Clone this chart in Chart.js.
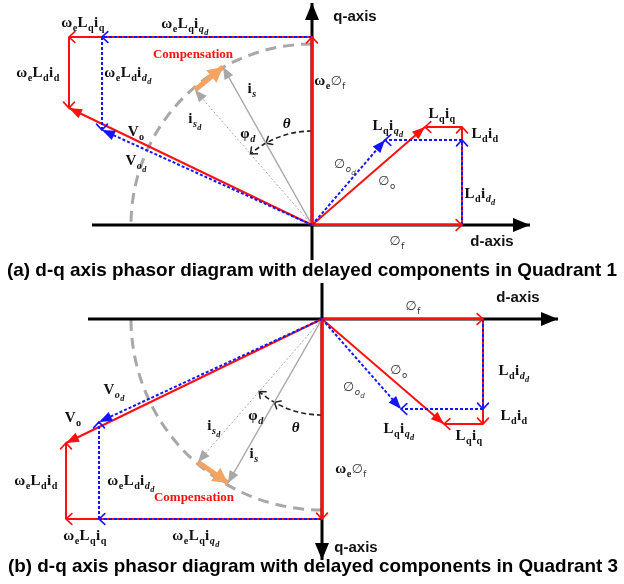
<!DOCTYPE html>
<html><head><meta charset="utf-8">
<script src="https://cdn.jsdelivr.net/npm/chart.js@4/dist/chart.umd.min.js"></script>
<style>html,body{margin:0;padding:0;background:#fff}#wrap{width:624px;height:584px;position:relative}</style>
</head><body><div id="wrap"><canvas id="c"></canvas></div>
<script>
// ===== Panel (a) : Quadrant 1, values as (d, q) components =====
const phiF_a    = [150, 0];
const Ldid_a    = [0, 98];
const Ldidd_a   = [0, 85];
const Lqiq_a    = [-37, 0];
const Lqiqd_a   = [-77, 0];
const wePhiF_a  = [0, 188];
const weLqiq_a  = [-243, 0];
const weLqiqd_a = [-210, 0];
const weLdid_a  = [0, -71];
const weLdidd_a = [0, -93];
const is_a      = [-89, 158];
const isd_a     = [-117, 135];
const arcR_a    = [181, 94];     // current circle radius, angle-arc radius
const dAxis_a   = [-220, 218];
const qAxis_a   = [-35, 222];

// ===== Panel (b) : Quadrant 3 (q-axis pointing down) =====
const phiF_b    = [161, 0];
const Ldid_b    = [0, 105];
const Ldidd_b   = [0, 90];
const Lqiq_b    = [-39, 0];
const Lqiqd_b   = [-82, 0];
const wePhiF_b  = [0, 200];
const weLqiq_b  = [-256, 0];
const weLqiqd_b = [-223, 0];
const weLdid_b  = [0, -76];
const weLdidd_b = [0, -97];
const is_b      = [-94, 164];
const isd_b     = [-124, 143];
const arcR_b    = [191, 96];
const dAxis_b   = [-234, 236];
const qAxis_b   = [-36, 241];

const captions = [
  "(a) d-q axis phasor diagram with delayed components in Quadrant 1",
  "(b) d-q axis phasor diagram with delayed components in Quadrant 3"
];

// ---------- label text definitions ----------
const T = {
  weLqiq:  [['ω',0],['e',1],['L',0],['q',1],['i',0],['q',1]],
  weLqiqd: [['ω',0],['e',1],['L',0],['q',1],['i',0],['q',1,'i'],['d',2,'i']],
  weLdid:  [['ω',0],['e',1],['L',0],['d',1],['i',0],['d',1]],
  weLdidd: [['ω',0],['e',1],['L',0],['d',1],['i',0],['d',1,'i'],['d',2,'i']],
  Vo:      [['V',0],['o',1]],
  Vod:     [['V',0],['o',1,'i'],['d',2,'i']],
  is:      [['i',0],['s',1,'i']],
  isd:     [['i',0],['s',1,'i'],['d',2,'i']],
  phid:    [['φ',0],['d',1,'i']],
  theta:   [['θ',0,'i']],
  wePhiF:  [['ω',0],['e',1],['∅',0,'s'],['f',1,'s']],
  phiF:    [['∅',0,'s'],['f',1,'s']],
  phiO:    [['∅',0,'s'],['o',1,'s']],
  phiOd:   [['∅',0,'s'],['o',1,'si'],['d',2,'si']],
  Lqiq:    [['L',0],['q',1],['i',0],['q',1]],
  Ldid:    [['L',0],['d',1],['i',0],['d',1]],
  Lqiqd:   [['L',0],['q',1],['i',0],['q',1,'i'],['d',2,'i']],
  Ldidd:   [['L',0],['d',1],['i',0],['d',1,'i'],['d',2,'i']]
};

// label placement (text key, offset from panel origin in diagram units)
const labelsA = [
  ['weLqiq',-229,203],['weLqiqd',-127,202],['weLdid',-274,153],['weLdidd',-184,153],
  ['Vo',-176,94],['Vod',-176,65],['is',-60,137],['isd',-117,107],['phid',-64,92],['theta',-25,102],
  ['wePhiF',18,145],['phiF',85,-15],['Lqiq',130,112],['Ldid',173,92],['Lqiqd',76,100],
  ['phiOd',33,62],['phiO',75,45],['Ldidd',168,32]
];
const labelsB = [
  ['phiF',91,-14],['Ldidd',192,51],['Ldid',192,96],['Lqiqd',77,109],['Lqiq',147,116],
  ['phiO',77,50],['phiOd',32,67],['wePhiF',29,149],['Vod',-208,70],['Vo',-249,98],
  ['weLdid',-286,161],['weLdidd',-191,161],['weLqiq',-237,216],['weLqiqd',-126,216],
  ['isd',-108,106],['phid',-66,96],['theta',-26,108],['is',-68,134]
];
const plainA = [['Compensation',-119,170,'comp'],['q-axis',43,208,'axis'],['d-axis',180,-17,'axis'],[captions[0],0,-46,'cap']];
const plainB = [['Compensation',-128,179,'comp'],['d-axis',196,-21,'axis'],['q-axis',34,229,'axis'],[captions[1],-9,248,'cap']];

// ---------- styles ----------
const RED = '#ff1010', BLUE = '#1414ff', GRAY = '#a8a8a8', ORANGE = '#f4a460';
const ST = {
  red:   {c:RED, w:2},
  redT:  {c:RED, w:3},
  blue:  {c:BLUE, w:2, d:[3,2]},
  gray:  {c:GRAY, w:1.5},
  grayD: {c:GRAY, w:1, d:[2,2]},
  orng:  {c:ORANGE, w:5},
  axis:  {c:'#000', w:3}
};
const add = (p, v) => [p[0]+v[0], p[1]+v[1]];
const O = [0,0];
const datasets = [];
function seg(panel, p0, p1, st, arrow) {
  const s = ST[st];
  datasets.push({
    data:[{x:p0[0],y:p0[1]},{x:p1[0],y:p1[1]}],
    xAxisID: 'x'+panel, yAxisID: 'y'+panel,
    showLine:true, pointRadius:0, borderColor:s.c, backgroundColor:s.c,
    borderWidth:s.w, borderDash:s.d||[], tension:0, fill:false, arrow: arrow
  });
}
function buildPanel(p, v) {
  seg(p, [v.dAxis[0],0], [v.dAxis[1],0], 'axis', 'axis');
  seg(p, [0,v.qAxis[0]], [0,v.qAxis[1]], 'axis', 'axis');
  seg(p, O, v.isd, 'grayD', 'gray');
  seg(p, O, v.is, 'gray', 'gray');
  seg(p, v.isd, v.is, 'orng', 'orng');
  const a1 = v.phiF, r2 = add(a1, v.Ldid), r3 = add(r2, v.Lqiq);
  const b2 = add(a1, v.Ldidd), b3 = add(b2, v.Lqiqd);
  seg(p, O, a1, 'red', 'open');
  seg(p, a1, r2, 'red', 'open');
  seg(p, r2, r3, 'red', 'open');
  seg(p, O, r3, 'red', 'fillR');
  seg(p, a1, b2, 'blue', 'openB');
  seg(p, b2, b3, 'blue', 'openB');
  seg(p, O, b3, 'blue', 'fillB');
  const w1 = v.wePhiF, w2 = add(w1, v.weLqiq), w3 = add(w2, v.weLdid);
  const u2 = add(w1, v.weLqiqd), u3 = add(u2, v.weLdidd);
  seg(p, O, w1, 'redT', 'open');
  seg(p, w1, w2, 'red', 'open');
  seg(p, w2, w3, 'red', 'open');
  seg(p, O, w3, 'red', 'fillR');
  seg(p, w1, u2, 'blue', 'openB');
  seg(p, u2, u3, 'blue', 'openB');
  seg(p, O, u3, 'blue', 'fillB');
}
buildPanel('a', {phiF:phiF_a,Ldid:Ldid_a,Ldidd:Ldidd_a,Lqiq:Lqiq_a,Lqiqd:Lqiqd_a,wePhiF:wePhiF_a,weLqiq:weLqiq_a,weLqiqd:weLqiqd_a,weLdid:weLdid_a,weLdidd:weLdidd_a,is:is_a,isd:isd_a,dAxis:dAxis_a,qAxis:qAxis_a});
buildPanel('b', {phiF:phiF_b,Ldid:Ldid_b,Ldidd:Ldidd_b,Lqiq:Lqiq_b,Lqiqd:Lqiqd_b,wePhiF:wePhiF_b,weLqiq:weLqiq_b,weLqiqd:weLqiqd_b,weLdid:weLdid_b,weLdidd:weLdidd_b,is:is_b,isd:isd_b,dAxis:dAxis_b,qAxis:qAxis_b});
datasets.forEach((d,i)=>{ d.order = datasets.length - i; });

// ---------- drawing helpers ----------
function chevron(ctx, tx, ty, ang, color, len, spread, lw) {
  ctx.save(); ctx.setLineDash([]); ctx.strokeStyle=color; ctx.lineWidth=lw; ctx.lineCap='round';
  ctx.beginPath();
  ctx.moveTo(tx - len*Math.cos(ang-spread), ty - len*Math.sin(ang-spread));
  ctx.lineTo(tx, ty);
  ctx.lineTo(tx - len*Math.cos(ang+spread), ty - len*Math.sin(ang+spread));
  ctx.stroke(); ctx.restore();
}
function tri(ctx, tx, ty, ang, color, len, half) {
  const bx = tx - len*Math.cos(ang), by = ty - len*Math.sin(ang);
  const nx = -Math.sin(ang), ny = Math.cos(ang);
  ctx.save(); ctx.fillStyle=color; ctx.beginPath();
  ctx.moveTo(tx,ty); ctx.lineTo(bx+nx*half, by+ny*half); ctx.lineTo(bx-nx*half, by-ny*half);
  ctx.closePath(); ctx.fill(); ctx.restore();
}
function panelGeom(chart, p) {
  const xs = chart.scales['x'+p], ys = chart.scales['y'+p];
  const px = v => [xs.getPixelForValue(v[0]), ys.getPixelForValue(v[1])];
  return {xs, ys, px, o: px([0,0])};
}
function angOf(g, v) { const q = g.px(v); return Math.atan2(q[1]-g.o[1], q[0]-g.o[0]); }
function sweep(a1, a2) { let d = a2 - a1; while (d > Math.PI) d -= 2*Math.PI; while (d < -Math.PI) d += 2*Math.PI; return d; }

function drawArcs(chart, p, R, is, isd) {
  const ctx = chart.ctx, g = panelGeom(chart, p);
  const rPix = r => Math.abs(g.xs.getPixelForValue(r) - g.xs.getPixelForValue(0));
  const aq = angOf(g, [0,1]), ad = angOf(g, [-1,0]);
  const s1 = sweep(aq, ad);
  ctx.save(); ctx.strokeStyle=GRAY; ctx.lineWidth=3; ctx.setLineDash([11,7]);
  ctx.beginPath(); ctx.arc(g.o[0], g.o[1], rPix(R[0]), aq, aq+s1, s1<0); ctx.stroke(); ctx.restore();
  const ai = angOf(g, is), aid = angOf(g, isd);
  const s2 = sweep(aq, aid), r2 = rPix(R[1]);
  ctx.save(); ctx.strokeStyle='#222'; ctx.lineWidth=1.6; ctx.setLineDash([5,3]);
  ctx.beginPath(); ctx.arc(g.o[0], g.o[1], r2, aq, aq+s2, s2<0); ctx.stroke(); ctx.restore();
  const dir = Math.sign(s2);
  [ai, aid].forEach(a => {
    const tx = g.o[0] + r2*Math.cos(a), ty = g.o[1] + r2*Math.sin(a);
    const tang = a + dir*Math.PI/2;
    chevron(ctx, tx, ty, tang, '#222', 7, 0.7, 1.5);
  });
}

function drawRich(ctx, cx, cy, parts, S) {
  const fontFor = (lvl, sty) => {
    const size = lvl===0 ? S : (lvl===1 ? S*0.68 : S*0.55);
    const sans = sty && sty.indexOf('s')===0;
    const it = sty && sty.indexOf('i')>=0;
    if (sans) return (it?'italic ':'') + (size*0.85).toFixed(1)+'px "DejaVu Sans"';
    return (it?'italic ':'') + 'bold ' + size.toFixed(1) + 'px "Liberation Serif"';
  };
  const dyFor = lvl => lvl===0 ? 0 : (lvl===1 ? S*0.28 : S*0.48);
  let w = 0; const ms = [];
  parts.forEach(pt => { ctx.font = fontFor(pt[1], pt[2]); const m = ctx.measureText(pt[0]).width; ms.push(m); w += m + (pt[1]===0?0.5:0.3); });
  let x = cx - w/2; const base = cy + S*0.3;
  parts.forEach((pt,i) => {
    ctx.font = fontFor(pt[1], pt[2]);
    ctx.fillStyle = (pt[2] && pt[2].indexOf('s')===0) ? '#333' : '#111';
    ctx.fillText(pt[0], x, base + dyFor(pt[1]));
    x += ms[i] + (pt[1]===0?0.5:0.3);
  });
}

const phasorPlugin = {
  id: 'phasor',
  beforeDatasetsDraw(chart) {
    drawArcs(chart, 'a', arcR_a, is_a, isd_a);
    drawArcs(chart, 'b', arcR_b, is_b, isd_b);
  },
  afterDatasetsDraw(chart) {
    const ctx = chart.ctx;
    chart.data.datasets.forEach((ds, i) => {
      if (!ds.arrow) return;
      const pts = chart.getDatasetMeta(i).data;
      const a = pts[0], b = pts[1];
      const ang = Math.atan2(b.y - a.y, b.x - a.x);
      switch (ds.arrow) {
        case 'axis': tri(ctx, b.x, b.y, ang, '#000', 17, 7); break;
        case 'open': chevron(ctx, b.x, b.y, ang, RED, 8, 0.75, 1.6); break;
        case 'openB': chevron(ctx, b.x, b.y, ang, BLUE, 8, 0.75, 1.6); break;
        case 'fillR': tri(ctx, b.x, b.y, ang, RED, 13, 5); break;
        case 'fillB': tri(ctx, b.x, b.y, ang, BLUE, 13, 5); break;
        case 'gray': tri(ctx, b.x, b.y, ang, GRAY, 12, 5); break;
        case 'orng': tri(ctx, b.x, b.y, ang, ORANGE, 15, 8); break;
      }
    });
  },
  afterDraw(chart) {
    const ctx = chart.ctx;
    [['a', labelsA, plainA], ['b', labelsB, plainB]].forEach(([p, labs, plain]) => {
      const g = panelGeom(chart, p);
      labs.forEach(l => { const q = g.px([l[1], l[2]]); drawRich(ctx, q[0], q[1], T[l[0]], 15); });
      plain.forEach(l => {
        const q = g.px([l[1], l[2]]);
        ctx.save(); ctx.textAlign='center'; ctx.textBaseline='middle';
        if (l[3]==='comp') { ctx.font='bold 13px "Liberation Serif"'; ctx.fillStyle=RED; ctx.fillText(l[0], q[0], q[1]); }
        else if (l[3]==='axis') { ctx.font='bold 15px "Liberation Sans"'; ctx.fillStyle='#111'; ctx.fillText(l[0], q[0], q[1]); }
        else {
          ctx.font='bold 18.5px "Liberation Sans"'; ctx.fillStyle='#000';
          const w = ctx.measureText(l[0]).width, target = 610;
          ctx.translate(q[0], q[1]); ctx.scale(target / w, 1);
          ctx.fillText(l[0], 0, 0);
        }
        ctx.restore();
      });
    });
  }
};

new Chart(document.getElementById('c'), {
  type: 'scatter',
  data: { datasets },
  options: {
    responsive: true, maintainAspectRatio: false, animation: false, events: [],
    layout: { padding: 0 },
    plugins: { legend: {display:false}, tooltip: {enabled:false} },
    scales: {
      xa: { type:'linear', min:-312, max:312, display:false },
      ya: { type:'linear', min:-359, max:225, display:false },
      xb: { type:'linear', min:-322, max:302, display:false },
      yb: { type:'linear', min:-319, max:265, reverse:true, display:false }
    }
  },
  plugins: [phasorPlugin]
});
</script></body></html>
